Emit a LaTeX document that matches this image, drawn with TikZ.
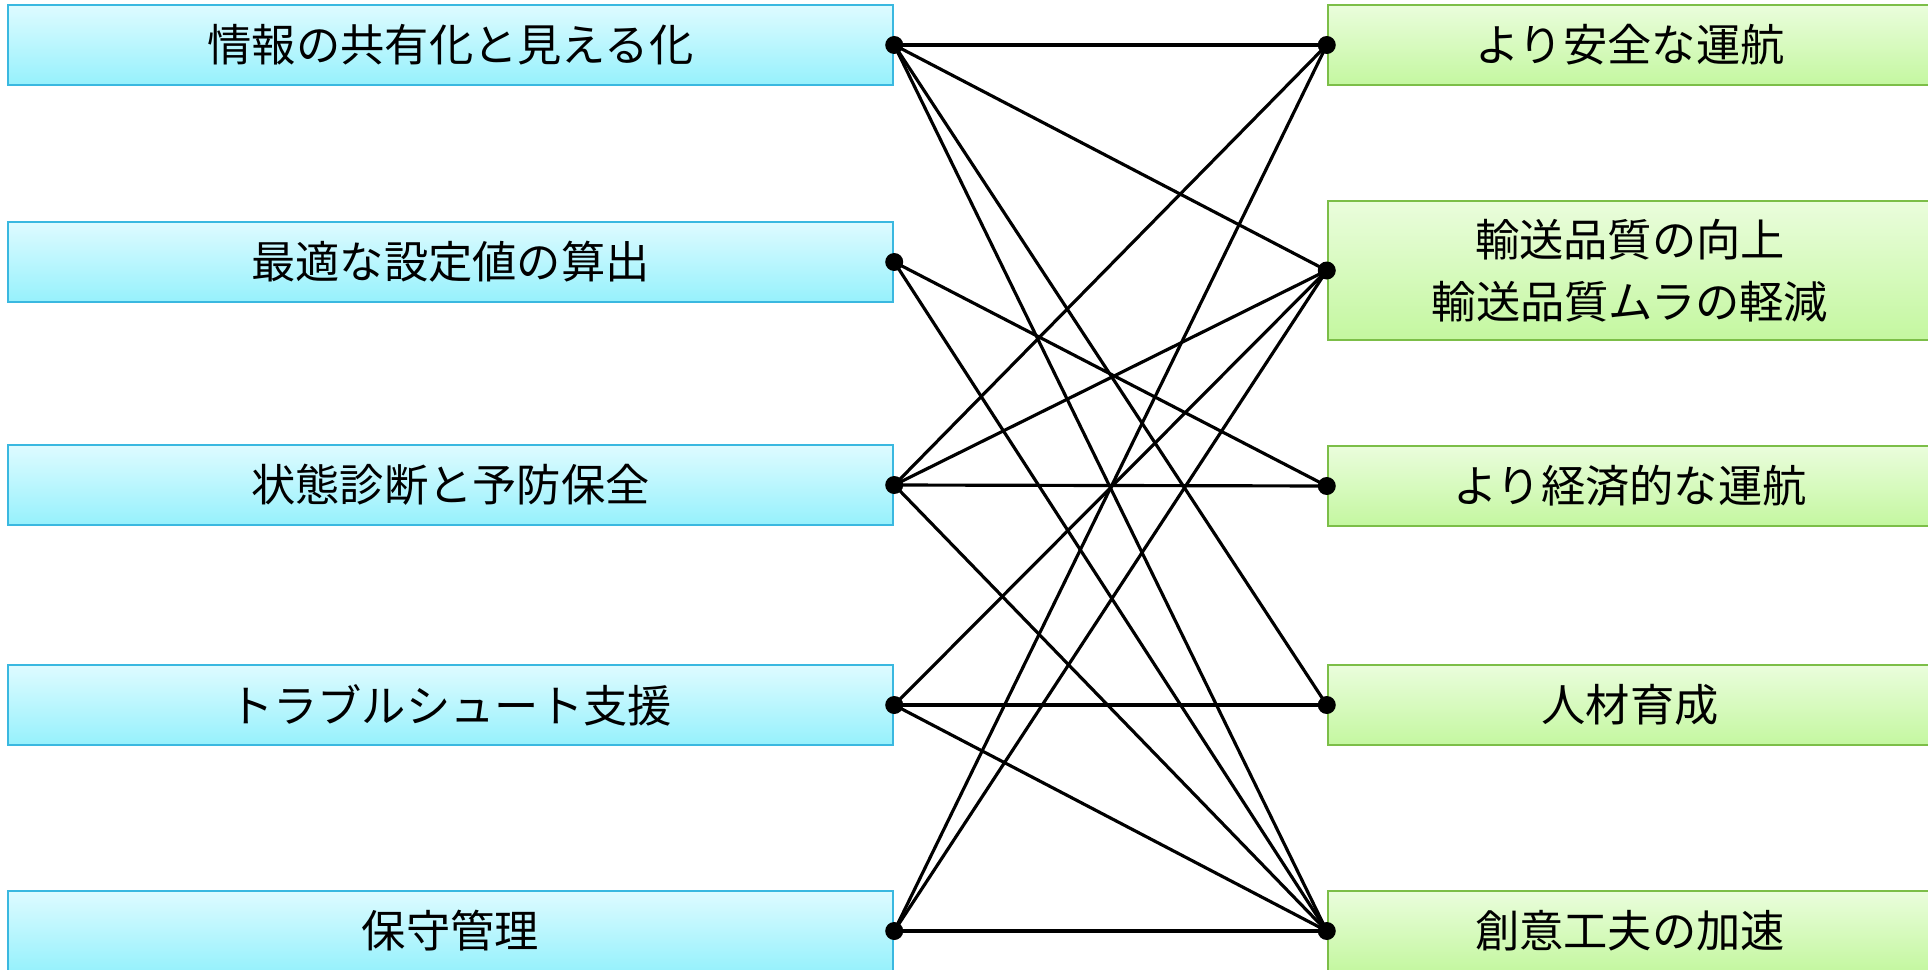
\documentclass[tikz,border=0pt]{standalone}
\usepackage{fontspec}
\setmainfont{Noto Sans CJK JP}
\definecolor{cyantop}{RGB}{222,251,255}
\definecolor{cyanbot}{RGB}{150,241,252}
\definecolor{cyanline}{RGB}{58,184,224}
\definecolor{greentop}{RGB}{234,253,220}
\definecolor{greenbot}{RGB}{196,247,160}
\definecolor{greenline}{RGB}{124,190,72}

\begin{document}
\begin{tikzpicture}[
    lbox/.style={draw=cyanline, line width=0.7pt, top color=cyantop, bottom color=cyanbot,
      minimum width=8.85cm, minimum height=0.8cm, inner sep=0pt, align=center,
      font=\fontsize{12.6}{17.5}\selectfont},
    rbox/.style={draw=greenline, line width=0.7pt, top color=greentop, bottom color=greenbot,
      minimum width=6.04cm, minimum height=0.8cm, inner sep=0pt, align=center,
      font=\fontsize{12.6}{17.5}\selectfont},
    link/.style={line width=0.9pt}
  ]
  \useasboundingbox (0,0) rectangle (19.28,9.69);
  \clip (0,0) rectangle (19.28,9.69);

  % Measures
  \node[lbox] (share) at (4.505,9.24) {情報の共有化と見える化};
  \node[lbox] (calc) at (4.505,7.07) {最適な設定値の算出};
  \node[lbox] (diag) at (4.505,4.84) {状態診断と予防保全};
  \node[lbox] (trouble) at (4.505,2.64) {トラブルシュート支援};
  \node[lbox] (maint) at (4.505,0.38) {保守管理};

  % Effects
  \node[rbox] (safe) at (16.30,9.24) {より安全な運航};
  \node[rbox, minimum height=1.39cm] (quality) at (16.30,6.985) {輸送品質の向上\\輸送品質ムラの軽減};
  \node[rbox] (econ) at (16.30,4.83) {より経済的な運航};
  \node[rbox] (hr) at (16.30,2.64) {人材育成};
  \node[rbox] (creative) at (16.30,0.38) {創意工夫の加速};

  % Links
  \foreach \a/\b in {share/safe, share/quality, share/hr, share/creative,
      calc/econ, calc/creative,
      diag/safe, diag/quality, diag/econ, diag/creative,
      trouble/quality, trouble/hr, trouble/creative,
      maint/safe, maint/quality, maint/creative}
    \draw[link] (\a.east) -- (\b.west);

  % Dots
  \foreach \n in {share, calc, diag, trouble, maint}
    \fill (\n.east) circle (0.09);
  \foreach \n in {safe, quality, econ, hr, creative}
    \fill (\n.west) circle (0.09);
\end{tikzpicture}
\end{document}
